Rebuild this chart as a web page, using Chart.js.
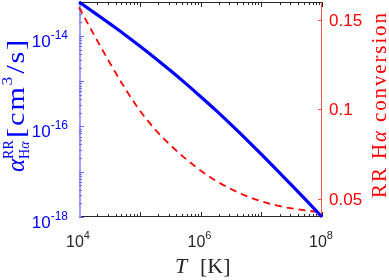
<!DOCTYPE html>
<html><head><meta charset="utf-8">
<script src="https://cdn.jsdelivr.net/npm/chart.js@4"></script>
<style>html,body{margin:0;padding:0;background:#fff;overflow:hidden}canvas{display:block}</style>
</head><body>
<canvas id="c" width="389" height="280"></canvas>
<script>
// ---- data ----
const temperatures = [1e4, 1.78e4, 3.16e4, 5.62e4, 1e5, 1.78e5, 3.16e5, 5.62e5, 1e6, 1.78e6, 3.16e6, 5.62e6, 1e7, 1.78e7, 3.16e7, 5.62e7, 1e8];
const alphaRR = [5.62e-14, 3.28e-14, 1.89e-14, 1.08e-14, 6.01e-15, 3.27e-15, 1.74e-15, 9.06e-16, 4.60e-16, 2.29e-16, 1.11e-16, 5.26e-17, 2.44e-17, 1.12e-17, 5.06e-18, 2.26e-18, 1.0e-18];
const conversion = [0.157, 0.1415, 0.1265, 0.1122, 0.0995, 0.0890, 0.0803, 0.0727, 0.0660, 0.0603, 0.0556, 0.0518, 0.0488, 0.0465, 0.0448, 0.0436, 0.0426];
const xTickExponents = [4, 6, 8];
const yTickExponents = [-14, -16, -18];
const y2TickValues = [0.05, 0.1, 0.15];
const y2TickLabels = ['0.05', '0.1', '0.15'];

const BLUE = '#0000ff', RED = '#ff0000', GRAY = '#262626';
const SANS = '"Liberation Sans", Arial, sans-serif';
const SERIF = '"Liberation Serif", "Times New Roman", serif';

function powerLabel(ctx, exp, x, baseline, align, color, big, small, rise) {
  const b = '10', e = String(exp);
  ctx.font = big + 'px ' + SANS; const wb = ctx.measureText(b).width;
  ctx.font = small + 'px ' + SANS; const we = ctx.measureText(e).width;
  const w = wb + we;
  const x0 = align === 'center' ? x - w / 2 : (align === 'right' ? x - w : x);
  ctx.fillStyle = color; ctx.textAlign = 'left'; ctx.textBaseline = 'alphabetic';
  ctx.font = big + 'px ' + SANS; ctx.fillText(b, x0, baseline);
  ctx.font = small + 'px ' + SANS; ctx.fillText(e, x0 + wb, baseline - rise);
}

const hasLS = (() => { const c = document.createElement('canvas').getContext('2d'); return 'letterSpacing' in c; })();

// draw pieces along +x from origin, spread to a target length (limited letter spacing, then stretch)
function drawFitted(ctx, pieces, target, color, maxLS) {
  ctx.textAlign = 'left'; ctx.textBaseline = 'alphabetic'; ctx.fillStyle = color;
  if (hasLS) ctx.letterSpacing = '0px';
  let w = 0, n = 0;
  for (const p of pieces) { ctx.font = p.f; w += ctx.measureText(p.t).width + (p.gap || 0); n += p.t.length; }
  let ls = 0;
  if (hasLS) ls = Math.max(0, Math.min(maxLS, (target - w) / Math.max(1, n - 1)));
  const w2 = w + ls * n;
  const sx = Math.max(1, target / w2);
  ctx.save();
  ctx.scale(sx, 1);
  let x = 0;
  for (const p of pieces) {
    ctx.font = p.f;
    if (hasLS) ctx.letterSpacing = ls + 'px';
    ctx.fillText(p.t, x, p.dy || 0);
    x += ctx.measureText(p.t).width + (p.gap || 0);
  }
  if (hasLS) ctx.letterSpacing = '0px';
  ctx.restore();
}

const decorPlugin = {
  id: 'decor',
  beforeDatasetsDraw(chart) {
    const { ctx, chartArea: a, scales } = chart;
    ctx.save();
    ctx.lineWidth = 1;
    ctx.strokeStyle = GRAY;
    ctx.beginPath();
    ctx.moveTo(a.left, a.top + 0.5); ctx.lineTo(a.right, a.top + 0.5);
    ctx.moveTo(a.left, a.bottom - 0.5); ctx.lineTo(a.right, a.bottom - 0.5);
    ctx.stroke();
    ctx.beginPath();
    for (let e = 4; e <= 8; e++) {
      for (let m = 1; m <= 9; m++) {
        if (e === 8 && m > 1) break;
        const px = Math.round(scales.x.getPixelForValue(m * Math.pow(10, e))) + 0.5;
        const len = m === 1 ? 5 : 3;
        ctx.moveTo(px, a.bottom); ctx.lineTo(px, a.bottom - len);
        ctx.moveTo(px, a.top); ctx.lineTo(px, a.top + len);
      }
    }
    ctx.stroke();
    ctx.strokeStyle = '#a0a0ff'; ctx.lineWidth = 2;
    ctx.beginPath(); ctx.moveTo(a.left + 1, a.top); ctx.lineTo(a.left + 1, a.bottom); ctx.stroke();
    ctx.lineWidth = 1; ctx.strokeStyle = '#6a6aff';
    ctx.beginPath();
    const ymax = scales.y.max;
    for (let e = -18; e <= -14; e++) {
      for (let m = 1; m <= 9; m++) {
        const v = m * Math.pow(10, e);
        if (v > ymax) break;
        const py = Math.round(scales.y.getPixelForValue(v)) + 0.5;
        const len = m === 1 ? 5 : 3;
        ctx.moveTo(a.left, py); ctx.lineTo(a.left + len, py);
      }
    }
    ctx.stroke();
    ctx.strokeStyle = '#ff5050';
    ctx.beginPath(); ctx.moveTo(a.right - 0.5, a.top); ctx.lineTo(a.right - 0.5, a.bottom);
    for (const v of y2TickValues) {
      const py = Math.round(scales.y2.getPixelForValue(v)) + 0.5;
      ctx.moveTo(a.right, py); ctx.lineTo(a.right - 4, py);
    }
    ctx.stroke();
    ctx.restore();
  },
  afterDraw(chart) {
    const { ctx, scales } = chart;
    ctx.save();
    for (const e of xTickExponents) {
      const px = scales.x.getPixelForValue(Math.pow(10, e));
      powerLabel(ctx, e, px - 1, 247, 'center', GRAY, 16, 11, 8);
    }
    for (const e of yTickExponents) {
      const py = scales.y.getPixelForValue(Math.pow(10, e));
      powerLabel(ctx, e, 68, py + 11, 'right', BLUE, 17, 12, 8);
    }
    ctx.fillStyle = RED; ctx.font = '17px ' + SANS; ctx.textAlign = 'left'; ctx.textBaseline = 'middle';
    y2TickValues.forEach((v, i) => {
      const py = scales.y2.getPixelForValue(v);
      ctx.fillText(y2TickLabels[i], 329, py + 1);
    });
    // x title
    ctx.textBaseline = 'alphabetic'; ctx.textAlign = 'left'; ctx.fillStyle = GRAY;
    ctx.font = 'italic 22px ' + SERIF; ctx.fillText('T', 175, 273);
    ctx.font = '22px ' + SERIF; ctx.fillText('[K]', 200, 273);
    // left title (rotated, reads bottom to top)
    {
      const M = '26px ' + SERIF, MI = 'italic 25px ' + SERIF, S = '14px ' + SERIF, SI = 'italic 14px ' + SERIF;
      ctx.save();
      ctx.translate(24, 172);
      ctx.rotate(-Math.PI / 2);
      ctx.fillStyle = BLUE; ctx.textAlign = 'left'; ctx.textBaseline = 'alphabetic';
      ctx.font = MI; ctx.fillText('\u03B1', 0, 0);
      const sx = ctx.measureText('\u03B1').width;
      ctx.font = S; ctx.fillText('RR', sx, -11);
      ctx.font = S; ctx.fillText('H', sx, 5);
      const hw = ctx.measureText('H').width;
      ctx.font = SI; ctx.fillText('\u03B1', sx + hw, 5);
      ctx.translate(34, 0);
      drawFitted(ctx, [{ t: '[cm', f: M }, { t: '3', f: '15px ' + SERIF, dy: -12, gap: 1 }, { t: '/s]', f: M }], 134 - 34, BLUE, 1.5);
      ctx.restore();
    }
    // right title (rotated)
    {
      ctx.save();
      ctx.translate(386, 198);
      ctx.rotate(-Math.PI / 2);
      drawFitted(ctx, [{ t: 'RR H', f: '21px ' + SERIF }, { t: '\u03B1', f: 'italic 21px ' + SERIF }, { t: ' conversion', f: '21px ' + SERIF }], 185, RED, 2.5);
      ctx.restore();
    }
    ctx.restore();
  }
};

new Chart(document.getElementById('c'), {
  type: 'line',
  data: {
    datasets: [
      { label: 'alpha', data: temperatures.map((t, i) => ({ x: t, y: alphaRR[i] })), yAxisID: 'y',
        borderColor: BLUE, borderWidth: 3.2, pointRadius: 0, cubicInterpolationMode: 'monotone', clip: false, order: 1 },
      { label: 'conversion', data: temperatures.map((t, i) => ({ x: t, y: conversion[i] })), yAxisID: 'y2',
        borderColor: RED, borderWidth: 1.8, borderDash: [7, 5], pointRadius: 0, cubicInterpolationMode: 'monotone', clip: false, order: 2 }
    ]
  },
  options: {
    responsive: false, devicePixelRatio: 1, animation: false,
    layout: { padding: { top: 2, left: 0, right: 0, bottom: 0 } },
    plugins: { legend: { display: false }, tooltip: { enabled: false } },
    scales: {
      x: { type: 'logarithmic', min: 1e4, max: 1e8, ticks: { display: false }, grid: { display: false }, border: { display: false },
           afterFit: s => { s.height = 63; } },
      y: { type: 'logarithmic', position: 'left', min: 1e-18, max: 5.62e-14, ticks: { display: false }, grid: { display: false }, border: { display: false },
           afterFit: s => { s.width = 79; } },
      y2: { type: 'linear', position: 'right', min: 0.04, max: 0.16, ticks: { display: false }, grid: { display: false }, border: { display: false },
           afterFit: s => { s.width = 67; } }
    }
  },
  plugins: [decorPlugin]
});
</script>
</body></html>
